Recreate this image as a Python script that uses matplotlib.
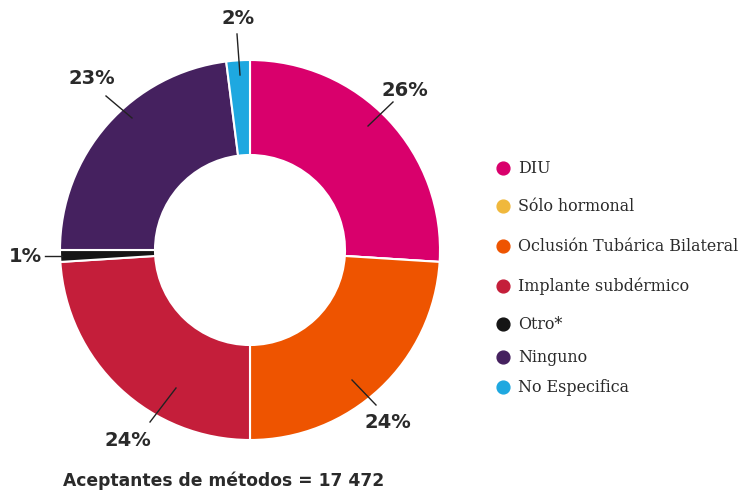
import matplotlib
matplotlib.use("Agg")
import matplotlib.pyplot as plt

categories = ["DIU", "Sólo hormonal", "Oclusión Tubárica Bilateral",
              "Implante subdérmico", "Otro*", "Ninguno", "No Especifica"]
values = [26, 0, 24, 24, 1, 23, 2]
labels = ["26%", "", "24%", "24%", "1%", "23%", "2%"]
colors = ["#D9006C", "#F0B83C", "#EE5400", "#C41E3A", "#151515", "#45215F", "#1EA8E0"]
total_text = "Aceptantes de métodos = 17 472"

W, H = 740, 490
R = 190.0
cx, cy = 250, 250  # pixel center (from top-left)

fig = plt.figure(figsize=(W / 100, H / 100), dpi=100)
ax = fig.add_axes([0, 0, 1, 1])

def px(x, y):
    return ((x - cx) / R, (cy - y) / R)

ax.pie(values, colors=colors, startangle=90, counterclock=False,
       radius=1.0, center=(0, 0),
       wedgeprops=dict(width=0.5, edgecolor="white", linewidth=1.5), frame=True)
ax.set_xlim(-cx / R, (W - cx) / R)
ax.set_ylim(-(H - cy) / R, cy / R)
ax.set_aspect("equal")
ax.axis("off")

# label text positions and leader lines (pixel coords)
lab_pos = {0: ((405, 90), (368, 126), (393, 102)),
           2: ((388, 422), (352, 380), (376, 405)),
           3: ((128, 440), (176, 388), (150, 422)),
           4: ((25, 256), (62, 256), (45, 256)),
           5: ((92, 78), (132, 118), (106, 96)),
           6: ((238, 18), (240, 75), (237, 34))}
for i, ((tx, ty), (a1x, a1y), (a2x, a2y)) in lab_pos.items():
    p1 = px(a1x, a1y)
    p2 = px(a2x, a2y)
    ax.plot([p1[0], p2[0]], [p1[1], p2[1]], color="#222222", lw=1)
    ax.text(*px(tx, ty), labels[i], ha="center", va="center",
            fontsize=14, fontweight="bold", color="#2a2a2a")

# legend
leg_y = [168, 206, 246, 286, 324, 357, 387]
for cat, col, y in zip(categories, colors, leg_y):
    ax.scatter(*px(503, y), s=85, color=col, zorder=5)
    ax.text(*px(518, y), cat, ha="left", va="center", fontsize=11.4,
            family="DejaVu Serif", color="#2a2a2a")

ax.text(*px(63, 481), total_text, ha="left", va="center", fontsize=12.3,
        fontweight="bold", color="#2a2a2a")

fig.savefig("out.png", dpi=100)
